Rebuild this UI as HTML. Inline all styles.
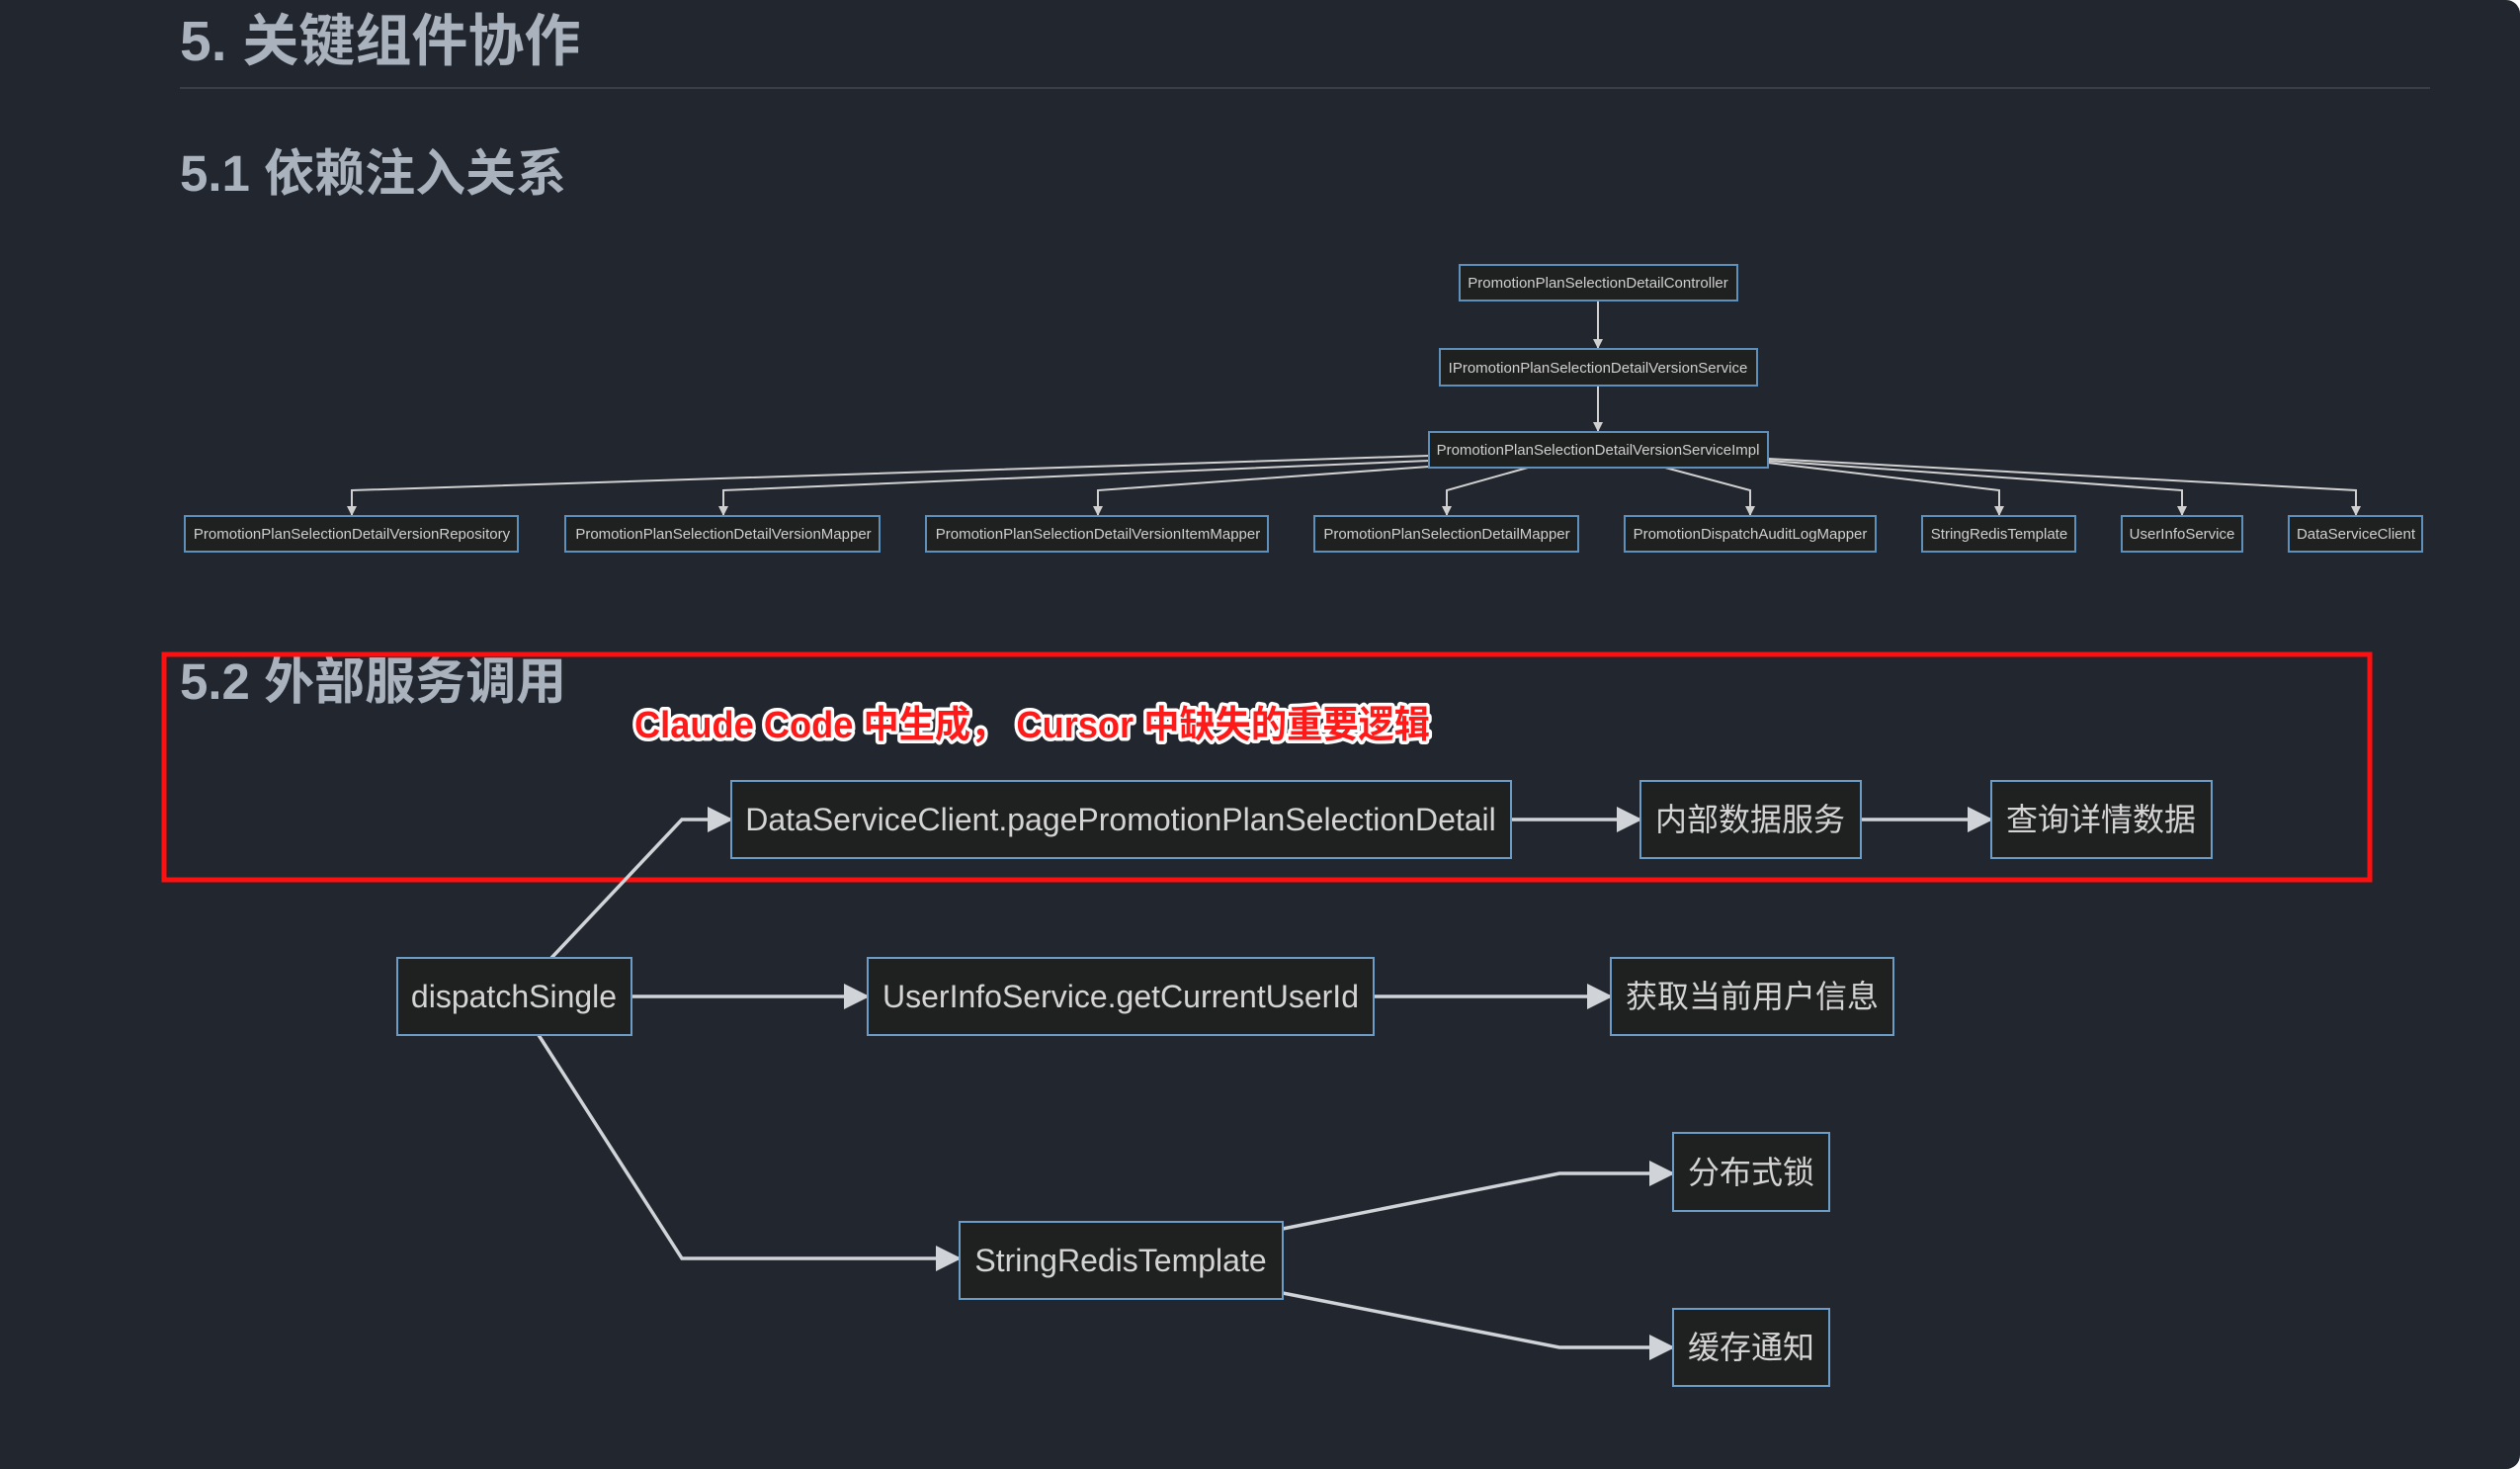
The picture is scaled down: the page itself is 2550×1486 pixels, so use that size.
<!DOCTYPE html>
<html><head><meta charset="utf-8"><style>
html,body{margin:0;padding:0;background:#fff;}
#c{position:relative;width:2550px;height:1486px;background:#22262e;border-radius:0 14px 14px 0;overflow:hidden;font-family:"Liberation Sans","Noto Sans CJK SC",sans-serif;}
.h{position:absolute;left:182px;color:#a9b2bd;font-weight:bold;margin:0;white-space:nowrap;}
svg{position:absolute;left:0;top:0;}
</style></head><body><div id="c">
<div class="h" style="top:2px;font-size:57px;line-height:80px;">5. 关键组件协作</div>
<div style="position:absolute;left:182px;top:88px;width:2277px;height:2px;background:#3a3f47;"></div>
<div class="h" style="top:138px;font-size:51px;line-height:76px;">5.1 依赖注入关系</div>
<div class="h" style="top:652px;font-size:51px;line-height:76px;">5.2 外部服务调用</div>
<svg width="2550" height="1486" viewBox="0 0 2550 1486" font-family="Liberation Sans, Noto Sans CJK SC, sans-serif">
<defs>
<marker id="a1" markerWidth="10" markerHeight="10" refX="9" refY="5" orient="auto" markerUnits="userSpaceOnUse"><path d="M0,0 L10,5 L0,10 z" fill="#d0d0d0"/></marker>
<marker id="a2" markerWidth="26" markerHeight="26" refX="24" refY="13" orient="auto" markerUnits="userSpaceOnUse"><path d="M0,0 L26,13 L0,26 z" fill="#d0d4d8"/></marker>
</defs>
<g fill="none" stroke="#d0d0d0" stroke-width="2" marker-end="url(#a1)">
<path d="M1617,304 V352"/>
<path d="M1617,390 V436"/>
<path d="M1446,461 L356,496 V521"/>
<path d="M1446,466 L732,496 V521"/>
<path d="M1446,472 L1111,496 V521"/>
<path d="M1546,473 L1464,496 V521"/>
<path d="M1685,473 L1771,496 V521"/>
<path d="M1789,468 L2023,496 V521"/>
<path d="M1789,466 L2208,496 V521"/>
<path d="M1789,464 L2384,496 V521"/>
</g>
<g fill="#1f2020" stroke="#5f8fbb" stroke-width="2">
<rect x="1477" y="268" width="281" height="36"/>
<rect x="1457" y="353" width="321" height="37"/>
<rect x="1446" y="437" width="343" height="36"/>
<rect x="187" y="522" width="337" height="36"/>
<rect x="572" y="522" width="318" height="36"/>
<rect x="937" y="522" width="346" height="36"/>
<rect x="1330" y="522" width="267" height="36"/>
<rect x="1644" y="522" width="254" height="36"/>
<rect x="1945" y="522" width="155" height="36"/>
<rect x="2147" y="522" width="122" height="36"/>
<rect x="2316" y="522" width="135" height="36"/>
</g>
<g fill="#cfcfcf" font-size="15" text-anchor="middle">
<text x="1617" y="291">PromotionPlanSelectionDetailController</text>
<text x="1617" y="377">IPromotionPlanSelectionDetailVersionService</text>
<text x="1617" y="460">PromotionPlanSelectionDetailVersionServiceImpl</text>
<text x="356" y="545">PromotionPlanSelectionDetailVersionRepository</text>
<text x="732" y="545">PromotionPlanSelectionDetailVersionMapper</text>
<text x="1111" y="545">PromotionPlanSelectionDetailVersionItemMapper</text>
<text x="1464" y="545">PromotionPlanSelectionDetailMapper</text>
<text x="1771" y="545">PromotionDispatchAuditLogMapper</text>
<text x="2023" y="545">StringRedisTemplate</text>
<text x="2208" y="545">UserInfoService</text>
<text x="2384" y="545">DataServiceClient</text>
</g>
<rect x="166" y="662" width="2232" height="228" fill="none" stroke="#ff1010" stroke-width="5"/>
<text x="642" y="746" font-size="38" font-weight="bold" fill="#ff1a1a" stroke="#ffffff" stroke-width="7" paint-order="stroke" stroke-linejoin="round" textLength="805" lengthAdjust="spacingAndGlyphs">Claude Code 中生成， Cursor 中缺失的重要逻辑</text>
<g fill="none" stroke="#d0d4d8" stroke-width="3.5" marker-end="url(#a2)">
<path d="M558,969 L690,829 H740"/>
<path d="M1529,829 H1660"/>
<path d="M1883,829 H2015"/>
<path d="M639,1008 H878"/>
<path d="M1390,1008 H1630"/>
<path d="M545,1047 L690,1273 H971"/>
<path d="M1298,1243 L1578,1187 H1693"/>
<path d="M1298,1308 L1578,1363 H1693"/>
</g>
<g fill="#1f2020" stroke="#6d9cc6" stroke-width="2">
<rect x="740" y="790" width="789" height="78"/>
<rect x="1660" y="790" width="223" height="78"/>
<rect x="2015" y="790" width="223" height="78"/>
<rect x="402" y="969" width="237" height="78"/>
<rect x="878" y="969" width="512" height="78"/>
<rect x="1630" y="969" width="286" height="78"/>
<rect x="971" y="1236" width="327" height="78"/>
<rect x="1693" y="1146" width="158" height="79"/>
<rect x="1693" y="1324" width="158" height="78"/>
</g>
<g fill="#d4d4d4" font-size="32" text-anchor="middle">
<text x="1134" y="840">DataServiceClient.pagePromotionPlanSelectionDetail</text>
<text x="1771" y="840">内部数据服务</text>
<text x="2126" y="840">查询详情数据</text>
<text x="520" y="1019">dispatchSingle</text>
<text x="1134" y="1019">UserInfoService.getCurrentUserId</text>
<text x="1773" y="1019">获取当前用户信息</text>
<text x="1134" y="1286">StringRedisTemplate</text>
<text x="1772" y="1197">分布式锁</text>
<text x="1772" y="1374">缓存通知</text>
</g>
</svg>
</div></body></html>
